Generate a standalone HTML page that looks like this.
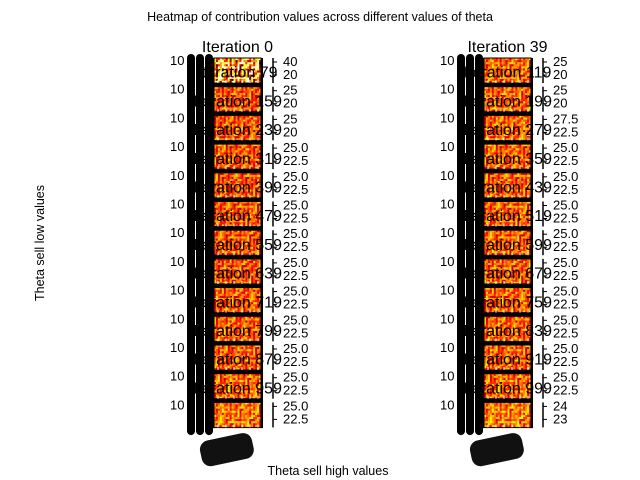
<!DOCTYPE html>
<html><head><meta charset="utf-8"><style>
body{margin:0;background:#fff;}
svg{display:block;font-family:"Liberation Sans","DejaVu Sans",sans-serif;}
</style></head><body>
<svg id="c" width="640" height="480" viewBox="0 0 640 480">
<text x="320" y="21" font-size="12.5" text-anchor="middle">Heatmap of contribution values across different values of theta</text>
<text x="328" y="475" font-size="12.5" text-anchor="middle">Theta sell high values</text>
<text x="44" y="243" font-size="12.5" text-anchor="middle" transform="rotate(-90 44 243)">Theta sell low values</text>
<g id="g"></g>
</svg>
<script>
const leftTitles=["Iteration 0","Iteration 79","Iteration 159","Iteration 239","Iteration 319","Iteration 399","Iteration 479","Iteration 559","Iteration 639","Iteration 719","Iteration 799","Iteration 879","Iteration 959"];
const rightTitles=["Iteration 39","Iteration 119","Iteration 199","Iteration 279","Iteration 359","Iteration 439","Iteration 519","Iteration 599","Iteration 679","Iteration 759","Iteration 839","Iteration 919","Iteration 999"];
const leftMeans=[0.6,0.47,0.47,0.47,0.47,0.47,0.47,0.47,0.48,0.48,0.48,0.5,0.52];
const rightMeans=[0.5,0.5,0.5,0.49,0.49,0.49,0.49,0.49,0.49,0.49,0.49,0.5,0.53];
const leftTicks=[["40","20"],["25","20"],["25","20"],["25.0","22.5"],["25.0","22.5"],["25.0","22.5"],["25.0","22.5"],["25.0","22.5"],["25.0","22.5"],["25.0","22.5"],["25.0","22.5"],["25.0","22.5"],["25.0","22.5"]];
const rightTicks=[["25","20"],["25","20"],["27.5","22.5"],["25.0","22.5"],["25.0","22.5"],["25.0","22.5"],["25.0","22.5"],["25.0","22.5"],["25.0","22.5"],["25.0","22.5"],["25.0","22.5"],["25.0","22.5"],["24","23"]];
const pattern=[
[0.1,0.3,-0.2,0.2,0.0,-0.1,0.3,-0.3,0.1,0.2,-0.1,0.0],
[-0.2,0.0,0.2,-0.1,0.3,0.1,-0.2,0.1,0.0,-0.3,0.2,0.1],
[0.2,-0.1,0.0,0.3,-0.2,0.0,0.1,0.2,-0.1,0.1,-0.2,0.3],
[0.0,0.2,-0.3,0.1,0.1,-0.2,0.3,-0.1,0.2,0.0,0.1,-0.2],
[-0.1,0.1,0.2,-0.2,0.0,0.3,-0.1,0.0,0.3,-0.2,0.0,0.2],
[0.3,-0.2,0.1,0.0,-0.1,0.2,0.0,0.3,-0.2,0.1,0.2,-0.1]];
const NS="http://www.w3.org/2000/svg";
const g=document.getElementById('g');
function el(t,a,p){const e=document.createElementNS(NS,t);for(const k in a)e.setAttribute(k,a[k]);(p||g).appendChild(e);return e;}
function hot(t){t=Math.max(0,Math.min(1,t));const r=Math.min(1,t/0.375),gg=Math.max(0,Math.min(1,(t-0.375)/0.375)),b=Math.max(0,(t-0.75)/0.25);return `rgb(${r*255|0},${gg*255|0},${b*255|0})`;}
const y0=58,step=28.7,h=25;
function column(x0,titles,means,ticks,side){
  const w=47;
  const back=el('rect',{x:x0-2,y:y0,width:w+4,height:13*step-3,fill:'#000'});
  
  
  for(let k=0;k<3;k++){
    const b=el('rect',{x:x0-27+k*9,y:y0-4,width:8,height:13*step+8,rx:4,fill:'#000'});
    
    
  }
  const bb2=el('rect',{x:x0-14,y:y0+13*step+4,width:w+6,height:26,rx:9,fill:'#111',transform:`rotate(-12 ${x0+20} ${y0+13*step+16})`});
  
  
  means.forEach((m,i)=>{
    const y=y0+i*step;
    const yl=el('text',{x:x0-44,y:y+7,'font-size':13});yl.textContent='10';
    
    
    const hg=el('g',{});
    
    
    const cw=w/24,ch=h/12;
    const amp=(i===0&&side==='left')?1.6:0.7;
    for(let r=0;r<12;r++)for(let c=0;c<24;c++){
      const v=pattern[(r+(c>>2))%6][(c*5+r*7+i)%12];
      el('rect',{x:x0+c*cw,y:y+r*ch,width:cw+0.3,height:ch+0.3,fill:hot(m+v*amp)},hg);
    }
    el('rect',{x:x0,y:y,width:w,height:h,fill:'none',stroke:'#000','stroke-width':1},hg);
    for(let k=0;k<6;k++)el('line',{x1:x0+4+k*8,x2:x0+4+k*8,y1:y+h,y2:y+h-3,stroke:'#fff','stroke-width':1},hg);
    const cx=x0+w+12;
    const cb=el('line',{x1:cx,x2:cx,y1:y,y2:y+h,stroke:'#000','stroke-width':1.5});
    
    
    ticks[i].forEach((t,k)=>{
      const ty=y+4+k*13;
      el('line',{x1:cx,x2:cx+4,y1:ty,y2:ty,stroke:'#000'});
      const tl=el('text',{x:cx+10,y:ty+4,'font-size':13});tl.textContent=t;
      
      
    });
    const tt=el('text',{x:x0+w/2,y:i===0?y-6:y-9,'font-size':16,'text-anchor':'middle'});
    tt.textContent=titles[i];
    
    
  });
}
column(214,leftTitles,leftMeans,leftTicks,'left');
column(484,rightTitles,rightMeans,rightTicks,'right');
</script>
</body></html>
